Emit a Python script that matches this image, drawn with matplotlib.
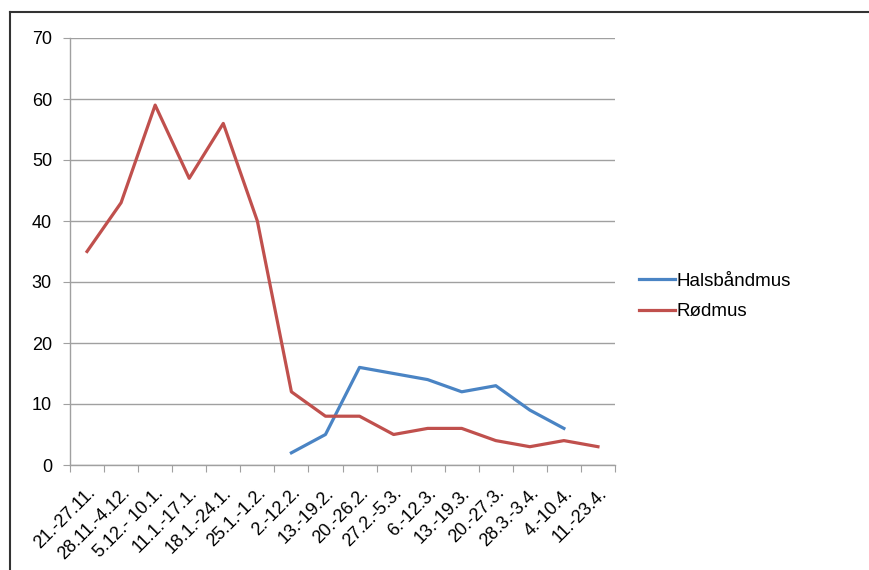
import matplotlib
matplotlib.use("Agg")
import matplotlib.pyplot as plt
import numpy as np

categories = ["21.-27.11.", "28.11.-4.12.", "5.12.- 10.1.", "11.1.-17.1.", "18.1.-24.1.",
              "25.1.-1.2.", "2.-12.2.", "13.-19.2.", "20.-26.2.", "27.2.-5.3.",
              "6.-12.3.", "13.-19.3.", "20.-27.3.", "28.3.-3.4.", "4.-10.4.", "11.-23.4."]
halsbandmus = [None, None, None, None, None, None, 2, 5, 16, 15, 14, 12, 13, 9, 6, None]
rodmus = [35, 43, 59, 47, 56, 40, 12, 8, 8, 5, 6, 6, 4, 3, 4, 3]
yticks = [0, 10, 20, 30, 40, 50, 60, 70]

plt.rcParams['font.family'] = ['Liberation Sans', 'DejaVu Sans']

fig = plt.figure(figsize=(8.69, 5.70), dpi=100)
ax = fig.add_axes([70/869, 1-465/570, (615-70)/869, (465-38)/570])

x = np.arange(len(categories))
hb = np.array([np.nan if v is None else v for v in halsbandmus], dtype=float)
ax.plot(x, hb, color='#4a84c4', lw=2.3, label='Halsbåndmus')
ax.plot(x, rodmus, color='#c0504d', lw=2.3, label='Rødmus')

ax.set_xlim(-0.5, len(categories) - 0.5)
ax.set_ylim(0, 70)
ax.set_yticks(yticks)
ax.set_yticklabels([str(v) for v in yticks], fontsize=13)
ax.yaxis.grid(True, color='#a0a0a0', lw=1.0)
ax.set_axisbelow(True)

ax.set_xticks(np.arange(len(categories) + 1) - 0.5)
ax.set_xticklabels([])
ax.set_xticks(x, minor=True)
ax.set_xticklabels(categories, minor=True, rotation=45, ha='right',
                   rotation_mode='anchor', fontsize=13)
ax.tick_params(axis='x', which='minor', length=0, pad=14)
ax.tick_params(axis='x', which='major', length=5, color='#a0a0a0', direction='out')
ax.tick_params(axis='y', length=5, color='#a0a0a0', direction='out', pad=8)

for s in ['top', 'right']:
    ax.spines[s].set_visible(False)
for s in ['left', 'bottom']:
    ax.spines[s].set_color('#a0a0a0')
    ax.spines[s].set_linewidth(1.0)

leg = fig.legend(loc='center left', bbox_to_anchor=(622/869, 1-296.5/570), frameon=False,
                 fontsize=13.5, handlelength=1.9, handletextpad=0.1, labelspacing=0.7)

# outer border (left and top edges)
fig.add_artist(plt.Line2D([10/869, 10/869], [0, 1-12/570], transform=fig.transFigure,
                          color='#333333', lw=1.5))
fig.add_artist(plt.Line2D([10/869, 1], [1-12/570, 1-12/570], transform=fig.transFigure,
                          color='#333333', lw=1.5))

fig.savefig('out.png', dpi=100)
